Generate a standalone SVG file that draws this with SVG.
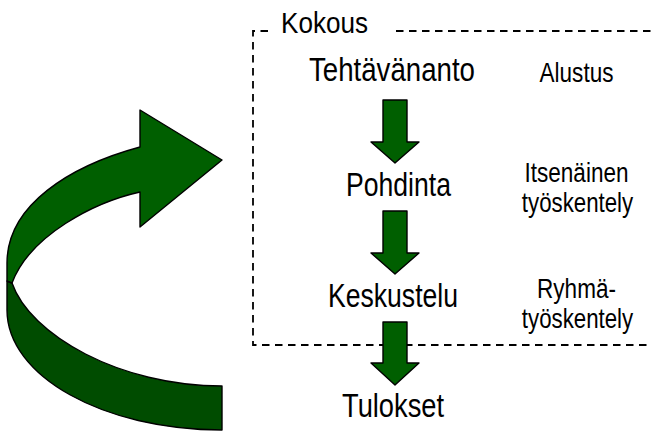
<svg xmlns="http://www.w3.org/2000/svg" width="651" height="434" viewBox="0 0 651 434">
<style>
.t{font-family:"Liberation Sans Narrow","Liberation Sans",Arial,sans-serif;fill:#000}
.main{font-size:33px}
.side{font-size:27.5px;text-anchor:middle}
.face{fill:#005f00;stroke:#000;stroke-width:1.4;stroke-linejoin:round}
.back{fill:#004c00;stroke:#000;stroke-width:1.4;stroke-linejoin:round}
.dash{fill:none;stroke:#000;stroke-width:1.8;stroke-dasharray:7.5 5.5}
</style>
<rect width="651" height="434" fill="#fff"/>
<g id="kokous-frame">
<path class="dash" d="M268,31 H253 V345 H651"/>
<path class="dash" d="M396,31 H651"/>
<text class="t" x="281" y="33" font-size="29.5" textLength="87" lengthAdjust="spacingAndGlyphs">Kokous</text>
</g>
<g id="loop-arrow">
<path class="back" d="M12,283 C30,335 120,386 222,386 L222,430 C103,430 7,376 7,310 L7,281 Z"/>
<path class="face" d="M140,147 C70,166 7,205 7,263 L7,281 L12,283 C30,235 95,202 140,192 L140,227 L222,160 L140,110 Z"/>
</g>
<g id="connectors">
<path class="face" d="M383,100 H407 V142 H419 L395,163 L371,142 H383 Z"/>
<path class="face" d="M383,211 H407 V253 H419 L395,274 L371,253 H383 Z"/>
<path class="face" d="M383,322 H407 V363 H419 L395,385 L371,363 H383 Z"/>
</g>
<g id="tehtavananto"><text class="t main" x="309" y="81" textLength="166" lengthAdjust="spacingAndGlyphs">Tehtävänanto</text></g>
<g id="alustus"><text class="t side" transform="translate(576.5,82) scale(0.82,1)">Alustus</text></g>
<g id="pohdinta"><text class="t main" x="346" y="196" textLength="105" lengthAdjust="spacingAndGlyphs">Pohdinta</text></g>
<g id="itsenainen">
<text class="t side" transform="translate(576.5,182) scale(0.82,1)">Itsenäinen</text>
<text class="t side" transform="translate(577.5,212) scale(0.81,1)">työskentely</text>
</g>
<g id="keskustelu"><text class="t main" x="328" y="307" textLength="130" lengthAdjust="spacingAndGlyphs">Keskustelu</text></g>
<g id="ryhma">
<text class="t side" transform="translate(576.5,298) scale(0.82,1)">Ryhmä-</text>
<text class="t side" transform="translate(577.5,328) scale(0.81,1)">työskentely</text>
</g>
<g id="tulokset"><text class="t main" x="342" y="417" textLength="102" lengthAdjust="spacingAndGlyphs">Tulokset</text></g>
</svg>
